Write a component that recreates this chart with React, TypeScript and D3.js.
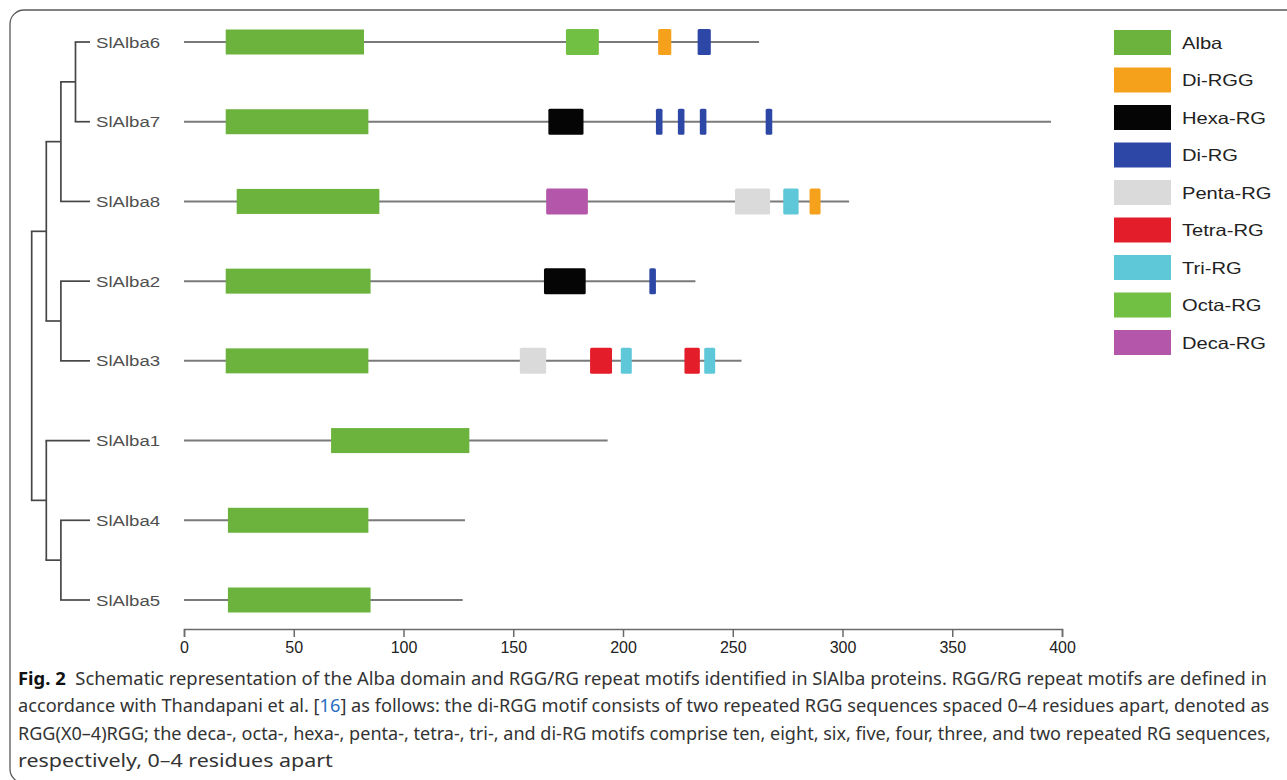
import React, { useEffect, useRef } from "react";
import * as d3 from "d3";

// Genes in display order (top to bottom)
const genes = ["SlAlba6", "SlAlba7", "SlAlba8", "SlAlba2", "SlAlba3", "SlAlba1", "SlAlba4", "SlAlba5"];
const proteinLength = [262, 395, 303, 233, 254, 193, 128, 127];
const albaStart = [19, 19, 24, 19, 19, 67, 20, 20];
const albaEnd = [82, 84, 89, 85, 84, 130, 84, 85];

// Motif positions (aa)
const motifGene = [
  "SlAlba6", "SlAlba6", "SlAlba6",
  "SlAlba7", "SlAlba7", "SlAlba7", "SlAlba7", "SlAlba7",
  "SlAlba8", "SlAlba8", "SlAlba8", "SlAlba8",
  "SlAlba2", "SlAlba2",
  "SlAlba3", "SlAlba3", "SlAlba3", "SlAlba3", "SlAlba3",
];
const motifType = [
  "Octa-RG", "Di-RGG", "Di-RG",
  "Hexa-RG", "Di-RG", "Di-RG", "Di-RG", "Di-RG",
  "Deca-RG", "Penta-RG", "Tri-RG", "Di-RGG",
  "Hexa-RG", "Di-RG",
  "Penta-RG", "Tetra-RG", "Tri-RG", "Tetra-RG", "Tri-RG",
];
const motifStart = [174, 216, 234, 166, 215, 225, 235, 265, 165, 251, 273, 285, 164, 212, 153, 185, 199, 228, 237];
const motifEnd = [189, 222, 240, 182, 218, 228, 238, 268, 184, 267, 280, 290, 183, 215, 165, 195, 204, 235, 242];

const legendNames = ["Alba", "Di-RGG", "Hexa-RG", "Di-RG", "Penta-RG", "Tetra-RG", "Tri-RG", "Octa-RG", "Deca-RG"];
const legendColors = ["#6cb33e", "#f5a11c", "#050505", "#2d47a6", "#dadada", "#e41d2b", "#5ec8d9", "#72c043", "#b456a9"];

const axisTicks = [0, 50, 100, 150, 200, 250, 300, 350, 400];

interface TreeNode {
  name?: string;
  children?: TreeNode[];
}

const tree: TreeNode = {
  children: [
    {
      children: [
        {
          children: [
            { children: [{ name: "SlAlba6" }, { name: "SlAlba7" }] },
            { name: "SlAlba8" },
          ],
        },
        { children: [{ name: "SlAlba2" }, { name: "SlAlba3" }] },
      ],
    },
    {
      children: [
        { name: "SlAlba1" },
        { children: [{ name: "SlAlba4" }, { name: "SlAlba5" }] },
      ],
    },
  ],
};

const captionLines = [
  [
    { t: "Fig. 2", bold: true },
    { t: "  Schematic representation of the Alba domain and RGG/RG repeat motifs identified in SlAlba proteins. RGG/RG repeat motifs are defined in" },
  ],
  [
    { t: "accordance with Thandapani et al. [" },
    { t: "16", link: true },
    { t: "] as follows: the di-RGG motif consists of two repeated RGG sequences spaced 0–4 residues apart, denoted as" },
  ],
  [
    { t: "RGG(X0–4)RGG; the deca-, octa-, hexa-, penta-, tetra-, tri-, and di-RG motifs comprise ten, eight, six, five, four, three, and two repeated RG sequences," },
  ],
  [{ t: "respectively, 0–4 residues apart" }],
];
const captionWidths = [1250, 1252, 1254, 315];

const width = 1287;
const height = 780;

// widen text horizontally, the source figure is stretched
const stretch = (sel: d3.Selection<any, any, any, any>, factor: number) => {
  sel.each(function (this: any) {
    const len = this.getComputedTextLength();
    d3.select(this).attr("textLength", len * factor).attr("lengthAdjust", "spacingAndGlyphs");
  });
};

const App: React.FC = () => {
  const ref = useRef<SVGSVGElement>(null);

  useEffect(() => {
    const svg = d3.select(ref.current);
    svg.selectAll("*").remove();

    // frame
    svg
      .append("rect")
      .attr("x", 10)
      .attr("y", 10)
      .attr("width", 1300)
      .attr("height", 773)
      .attr("rx", 14)
      .attr("fill", "#fff")
      .attr("stroke", "#5a5a5a")
      .attr("stroke-width", 1.3);

    const x = d3.scaleLinear().domain([0, 400]).range([184, 1062]);
    const y = d3.scalePoint<string>().domain(genes).range([42, 600]);

    // tree (cladogram, internal nodes placed by depth)
    const root = d3.hierarchy<TreeNode>(tree);
    const depthX = d3.scaleLinear().domain([0, 1]).range([31.7, 46.3]);
    const leafX = 90;
    root.eachAfter((n: any) => {
      if (!n.children) {
        n.py = y(n.data.name!)!;
        n.px = leafX;
      } else {
        n.py = (n.children[0].py + n.children[n.children.length - 1].py) / 2;
        n.px = depthX(n.depth);
      }
    });
    const treeG = svg.append("g").attr("stroke", "#474747").attr("stroke-width", 1.7).attr("fill", "none");
    root.each((n: any) => {
      if (n.parent) {
        treeG.append("line").attr("x1", n.parent.px - 0.85).attr("x2", n.px).attr("y1", n.py).attr("y2", n.py);
      }
      if (n.children) {
        const c = n.children;
        treeG
          .append("line")
          .attr("x1", n.px)
          .attr("x2", n.px)
          .attr("y1", c[0].py)
          .attr("y2", c[c.length - 1].py);
      }
    });

    // gene labels
    const labels = svg
      .append("g")
      .selectAll("text")
      .data(genes)
      .join("text")
      .attr("x", 96)
      .attr("y", (d) => y(d)! + 5.5)
      .attr("font-family", "Liberation Sans, Arial, sans-serif")
      .attr("font-size", 15.5)
      .attr("fill", "#4f4f4f")
      .text((d) => d);
    stretch(labels, 1.2);

    // protein backbones
    svg
      .append("g")
      .selectAll("line")
      .data(genes)
      .join("line")
      .attr("x1", x(0))
      .attr("x2", (d, i) => x(proteinLength[i]))
      .attr("y1", (d) => y(d)!)
      .attr("y2", (d) => y(d)!)
      .attr("stroke", "#7a7a7a")
      .attr("stroke-width", 2);

    const colorOf = d3.scaleOrdinal<string, string>().domain(legendNames).range(legendColors);

    // Alba domains
    svg
      .append("g")
      .selectAll("rect")
      .data(genes)
      .join("rect")
      .attr("x", (d, i) => x(albaStart[i]))
      .attr("width", (d, i) => x(albaEnd[i]) - x(albaStart[i]))
      .attr("y", (d) => y(d)! - 12.5)
      .attr("height", 25)
      .attr("fill", colorOf("Alba"));

    // motifs
    svg
      .append("g")
      .selectAll("rect")
      .data(motifGene.map((g, i) => i))
      .join("rect")
      .attr("x", (i) => x(motifStart[i]))
      .attr("width", (i) => x(motifEnd[i]) - x(motifStart[i]))
      .attr("y", (i) => y(motifGene[i])! - 13)
      .attr("height", 26)
      .attr("rx", 1.5)
      .attr("fill", (i) => colorOf(motifType[i]));

    // axis
    const axisY = 629;
    const axisG = svg
      .append("g")
      .attr("transform", `translate(0,${axisY})`)
      .call(d3.axisBottom(x).tickValues(axisTicks).tickSize(8).tickSizeOuter(8).tickPadding(5));
    axisG.select(".domain").attr("stroke", "#6a6a6a").attr("stroke-width", 1.5);
    axisG.selectAll(".tick line").attr("stroke", "#6a6a6a").attr("stroke-width", 1.5);
    axisG
      .selectAll(".tick text")
      .attr("font-family", "Liberation Sans, Arial, sans-serif")
      .attr("font-size", 16)
      .attr("fill", "#222");

    // legend
    const ly = d3.scalePoint<string>().domain(legendNames).range([42.5, 342.5]);
    const legend = svg.append("g");
    legend
      .selectAll("rect")
      .data(legendNames)
      .join("rect")
      .attr("x", 1114)
      .attr("y", (d) => ly(d)! - 12.5)
      .attr("width", 57)
      .attr("height", 25)
      .attr("fill", (d) => colorOf(d));
    const legendText = legend
      .selectAll("text")
      .data(legendNames)
      .join("text")
      .attr("x", 1182)
      .attr("y", (d) => ly(d)! + 6)
      .attr("font-family", "Liberation Sans, Arial, sans-serif")
      .attr("font-size", 16.5)
      .attr("fill", "#222")
      .text((d) => d);
    stretch(legendText, 1.22);

    // caption: lines are squeezed to the justified width of the original
    const cap = svg.append("g").attr("font-family", "Noto Sans, Open Sans, sans-serif").attr("font-size", 18.5).attr("fill", "#333");
    captionLines.forEach((line, li) => {
      const g = cap.append("g");
      const t = g
        .append("text")
        .attr("x", 0)
        .attr("y", 0)
        .attr("xml:space", "preserve")
        .style("white-space", "pre");
      line.forEach((seg: any) => {
        const s = t.append("tspan").text(seg.t);
        if (seg.bold) s.attr("font-weight", "bold").attr("fill", "#111");
        if (seg.link) s.attr("fill", "#2a6fc0");
      });
      const natural = (t.node() as SVGTextElement).getComputedTextLength();
      const sx = captionWidths[li] / natural;
      g.attr("transform", `translate(18,${685 + li * 27.3}) scale(${sx},1)`);
    });
  }, []);

  return (
    <svg
      ref={ref}
      width={width}
      height={height}
      style={{ position: "absolute", left: 0, top: 0, background: "#fff" }}
    />
  );
};

export default App;
